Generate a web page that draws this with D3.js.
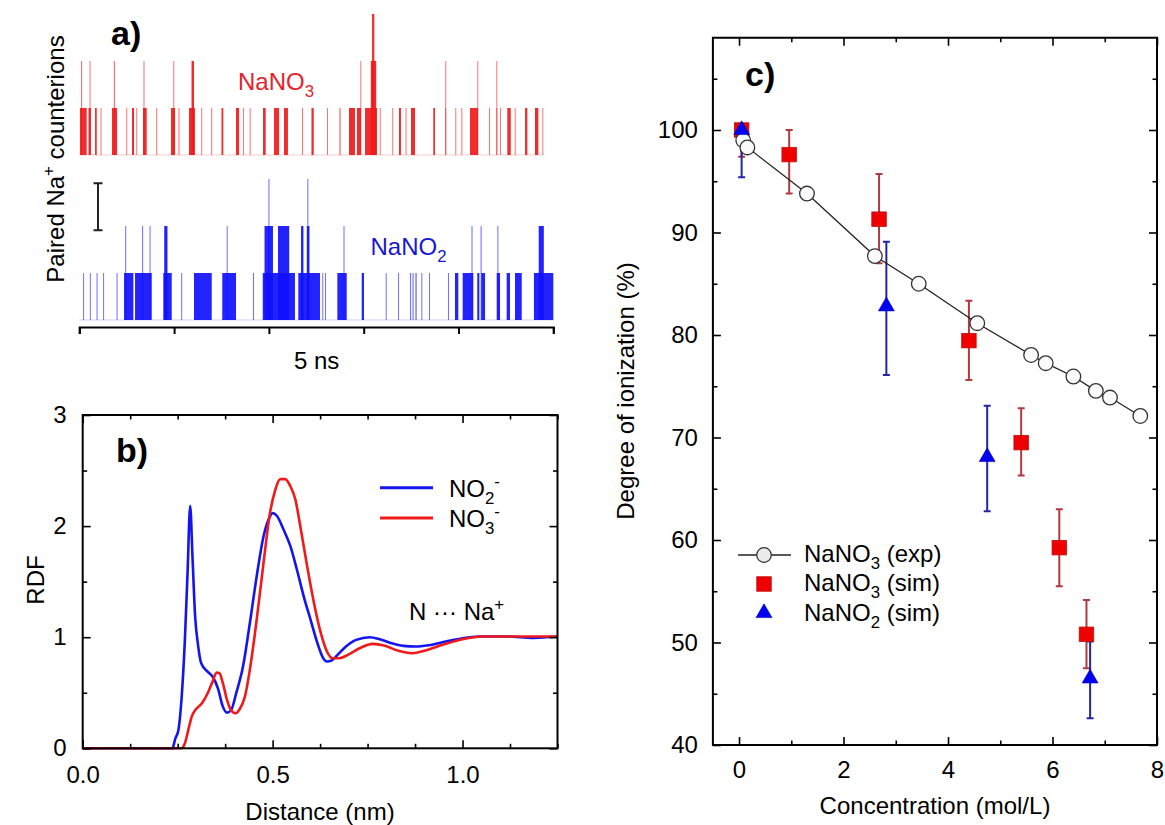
<!DOCTYPE html>
<html><head><meta charset="utf-8">
<script src="https://cdn.jsdelivr.net/npm/d3@7"></script>
<style>
body{margin:0;background:#fff}
text{font-family:"Liberation Sans",Arial,Helvetica,sans-serif}
</style>
</head><body>
<svg id="chart" width="1165" height="825"></svg>
<script>
// ---------------- DATA ----------------
// Panel a: paired Na+ counterion events, [start ns, end ns, count]
const timeTicks = [0, 1, 2, 3, 4, 5];
const nano3Events = [
 [0.007,0.078,1],[0.097,0.123,1],[0.166,0.184,1],[0.224,0.234,1],[0.345,0.398,1],[0.495,0.505,1],
 [0.556,0.577,1],[0.601,0.609,1],[0.672,0.711,1],[0.811,0.822,1],[0.967,1.010,1],[1.046,1.057,1],
 [1.157,1.220,1],[1.286,1.296,1],[1.391,1.402,1],[1.500,1.519,1],[1.653,1.685,1],[1.727,1.737,1],
 [1.797,1.806,1],[1.938,1.966,1],[2.054,2.107,1],[2.159,2.201,1],[2.349,2.360,1],[2.449,2.473,1],
 [2.613,2.623,1],[2.743,2.757,1],[2.845,2.908,1],[2.929,2.972,1],[3.014,3.140,1],[3.169,3.177,1],
 [3.301,3.311,1],[3.372,3.393,1],[3.441,3.452,1],[3.499,3.541,1],[3.734,3.752,1],[3.860,3.870,1],
 [3.966,3.976,1],[4.030,4.039,1],[4.121,4.206,1],[4.322,4.332,1],[4.399,4.407,1],[4.438,4.448,1],
 [4.515,4.551,1],[4.593,4.601,1],[4.702,4.726,1],[4.807,4.842,1],[4.884,4.893,1],
 [0.018,0.030,2],[0.108,0.118,2],[0.364,0.377,2],[0.677,0.688,2],[0.991,1.001,2],[1.184,1.210,2],
 [2.964,2.972,2],[3.075,3.132,2],[3.860,3.870,2],[4.198,4.206,2],[4.399,4.407,2],
 [3.088,3.112,3]
];
const nano2Events = [
 [0.040,0.046,1],[0.111,0.116,1],[0.182,0.187,1],[0.251,0.256,1],[0.393,0.398,1],[0.472,0.570,1],
 [0.588,0.764,1],[0.886,0.975,1],[1.075,1.085,1],[1.210,1.397,1],[1.508,1.653,1],[1.832,1.843,1],
 [1.935,2.275,1],[2.310,2.539,1],[2.563,2.571,1],[2.592,2.600,1],[2.722,2.821,1],[2.979,3.003,1],
 [3.232,3.241,1],[3.362,3.370,1],[3.488,3.500,1],[3.515,3.527,1],[3.545,3.559,1],[3.608,3.616,1],
 [3.689,3.697,1],[3.889,3.897,1],[3.963,3.998,1],[4.044,4.156,1],[4.198,4.220,1],[4.240,4.280,1],
 [4.403,4.438,1],[4.508,4.543,1],[4.596,4.667,1],[4.796,5.000,1],
 [0.484,0.495,2],[0.662,0.673,2],[0.741,0.751,2],[0.896,0.930,2],[1.555,1.565,2],[1.954,2.043,2],
 [2.096,2.214,2],[2.339,2.364,2],[2.400,2.428,2],[2.787,2.797,2],[4.137,4.148,2],[4.233,4.244,2],
 [4.410,4.420,2],[4.846,4.900,2],
 [1.995,2.006,3],[2.405,2.416,3]
];

// Panel b: RDF N...Na+
const no2Dist = [0,0.236,0.244,0.252,0.26,0.269,0.276,0.283,0.289,0.296,0.303,0.312,0.329,0.342,0.356,0.369,0.38,0.391,0.404,0.422,0.44,0.458,0.476,0.489,0.5,0.511,0.529,0.547,0.564,0.582,0.6,0.618,0.631,0.643,0.655,0.671,0.693,0.72,0.756,0.782,0.813,0.844,0.876,0.911,0.956,1.0,1.044,1.116,1.187,1.249];
const no2Rdf  = [0,0,0.09,0.165,0.435,0.976,1.577,2.18,1.727,1.186,0.946,0.766,0.69,0.646,0.54,0.375,0.321,0.345,0.495,0.736,1.126,1.547,1.907,2.057,2.117,2.093,1.967,1.817,1.607,1.366,1.156,0.946,0.826,0.781,0.79,0.841,0.916,0.976,1.0,0.982,0.946,0.922,0.916,0.928,0.961,0.991,1.006,1.006,0.994,1.006];
const no3Dist = [0,0.26,0.269,0.278,0.287,0.298,0.314,0.329,0.342,0.353,0.36,0.369,0.38,0.391,0.403,0.413,0.427,0.44,0.458,0.476,0.493,0.507,0.52,0.533,0.547,0.56,0.573,0.591,0.609,0.627,0.643,0.658,0.676,0.698,0.729,0.764,0.796,0.831,0.867,0.902,0.947,1.0,1.053,1.133,1.249];
const no3Rdf  = [0,0,0.045,0.165,0.285,0.351,0.405,0.495,0.6,0.682,0.676,0.586,0.435,0.339,0.315,0.351,0.465,0.706,1.156,1.667,2.117,2.327,2.423,2.423,2.357,2.237,1.997,1.637,1.306,1.036,0.871,0.811,0.811,0.841,0.901,0.94,0.922,0.877,0.856,0.88,0.931,0.982,1.006,1.006,1.006];
const rdfXTicks = [0, 0.5, 1.0];
const rdfYTicks = [0, 1, 2, 3];

// Panel c: degree of ionization
const expConc = [0.08,0.16,1.30,2.60,3.44,4.56,5.59,5.87,6.40,6.83,7.10,7.68];
const expIon  = [99.0,98.3,93.8,87.7,85.0,81.15,78.05,77.25,75.95,74.55,73.9,72.1];
const simNO3Conc = [0.05,0.96,2.68,4.40,5.40,6.13,6.65];
const simNO3Ion  = [100,97.6,91.3,79.45,69.5,59.25,50.8];
const simNO3Lo   = [97.4,93.8,87.0,75.6,66.3,55.5,47.5];
const simNO3Hi   = [100,100,95.7,83.35,72.85,63.0,54.15];
const simNO2Conc = [0.05,2.82,4.75,6.72];
const simNO2Ion  = [100,82.8,68.1,46.5];
const simNO2Lo   = [95.4,76.1,62.8,42.6];
const simNO2Hi   = [100,89.1,73.1,50.1];
const concTicks = [0,2,4,6,8];
const ionTicks = [40,50,60,70,80,90,100];

// ---------------- HELPERS ----------------
const svg = d3.select("#chart");
const FS = 24;
const RED = "#f01a1a", BLUE = "#1414f0";

function rich(parent, x, y, parts, opts = {}) {
  const fs = opts.fs || FS;
  const t = parent.append("text").attr("x", x).attr("y", y)
    .attr("font-size", fs).attr("fill", opts.fill || "#000");
  if (opts.anchor) t.attr("text-anchor", opts.anchor);
  if (opts.transform) t.attr("transform", opts.transform);
  if (opts.weight) t.attr("font-weight", opts.weight);
  let shift = 0;
  parts.forEach(p => {
    let target = 0, size = fs;
    if (p.sub) { target = 0.3 * fs; size = 0.7 * fs; }
    if (p.sup) { target = -0.42 * fs; size = 0.7 * fs; }
    t.append("tspan").attr("dy", target - shift).attr("font-size", size).text(p.t);
    shift = target;
  });
  return t;
}

function ticksAxis(g, axisFn, scale, values, size, transform) {
  const a = axisFn(scale).tickValues(values).tickSizeInner(size).tickSizeOuter(0).tickFormat("");
  const s = g.append("g").attr("transform", transform).call(a);
  s.select(".domain").remove();
  s.selectAll("line").attr("stroke", "#000").attr("stroke-width", 1.6);
  return s;
}

// ---------------- PANEL A ----------------
const gA = svg.append("g");
const xA = d3.scaleLinear().domain([0, 5]).range([79.3, 553.3]);
const yRed = d3.scaleLinear().domain([0, 3]).range([155, 14]);
const yBlue = d3.scaleLinear().domain([0, 3]).range([320, 179]);

gA.append("line").attr("x1", xA(0)).attr("x2", xA(4.9)).attr("y1", yRed(0)).attr("y2", yRed(0))
  .attr("stroke", "#f3d0d0").attr("stroke-width", 1.2);
gA.append("line").attr("x1", xA(0)).attr("x2", xA(5)).attr("y1", yBlue(0)).attr("y2", yBlue(0))
  .attr("stroke", "#d0d0f5").attr("stroke-width", 1.2);

function drawEvents(data, y, color) {
  const sorted = data.slice().sort((a, b) => a[2] - b[2]);
  gA.append("g").selectAll("rect").data(sorted).join("rect")
    .attr("x", d => xA(d[0]))
    .attr("width", d => Math.max(1, xA(d[1]) - xA(d[0])))
    .attr("y", d => y(d[2]))
    .attr("height", d => y(0) - y(d[2]))
    .attr("fill", color)
    .attr("opacity", d => (xA(d[1]) - xA(d[0]) < 1.5 ? 0.6 : 0.92));
}
drawEvents(nano3Events, yRed, RED);
drawEvents(nano2Events, yBlue, "#1010ff");

const axA = d3.axisBottom(xA).tickValues(timeTicks).tickSizeInner(7).tickSizeOuter(7).tickFormat("");
const axAg = gA.append("g").attr("transform", "translate(0,327)").call(axA);
axAg.select(".domain").attr("stroke-width", 2);
axAg.selectAll("line").attr("stroke-width", 2);

gA.append("text").attr("x", 316.7).attr("y", 368.5).attr("text-anchor", "middle")
  .attr("font-size", FS).text("5 ns");

// scale bar = 1 counterion
const sbLen = yBlue(0) - yBlue(1);
const sbX = 98, sbMid = 206.7;
gA.append("path").attr("d",
  `M${sbX},${sbMid - sbLen/2}V${sbMid + sbLen/2}M${sbX-4.5},${sbMid - sbLen/2}H${sbX+4.5}M${sbX-4.5},${sbMid + sbLen/2}H${sbX+4.5}`)
  .attr("stroke", "#222").attr("stroke-width", 2).attr("fill", "none");

rich(gA, 238, 90, [{t:"NaNO"},{t:"3",sub:true}], {fill:"#e5222a"});
rich(gA, 370.5, 255, [{t:"NaNO"},{t:"2",sub:true}], {fill:"#1818d0"});
rich(gA, 64, 159, [{t:"Paired Na"},{t:"+",sup:true},{t:" counterions"}],
  {anchor:"middle", transform:"rotate(-90,64,159)"});
gA.append("text").attr("x", 111).attr("y", 45).attr("font-size", 34).attr("font-weight", "bold").text("a)");

// ---------------- PANEL B ----------------
const gB = svg.append("g");
const xB = d3.scaleLinear().domain([0, 1.25]).range([82.7, 557.5]);
const yB = d3.scaleLinear().domain([0, 3]).range([748.3, 415]);

const lineB = (xs, ys) => d3.line().x((d, i) => xB(xs[i])).y((d, i) => yB(ys[i])).curve(d3.curveMonotoneX)(ys);
gB.append("path").attr("d", lineB(no2Dist, no2Rdf)).attr("fill", "none").attr("stroke", BLUE).attr("stroke-width", 2.6);
gB.append("path").attr("d", lineB(no3Dist, no3Rdf)).attr("fill", "none").attr("stroke", RED).attr("stroke-width", 2.6);

const minorX = d3.range(0, 1.2501, 0.125).filter(v => !rdfXTicks.some(t => Math.abs(t - v) < 1e-6));
const minorY = [0.5, 1.5, 2.5];
ticksAxis(gB, d3.axisBottom, xB, rdfXTicks, -8, `translate(0,${yB(0)})`);
ticksAxis(gB, d3.axisBottom, xB, minorX, -4.5, `translate(0,${yB(0)})`);
ticksAxis(gB, d3.axisTop, xB, rdfXTicks, -8, `translate(0,${yB(3)})`);
ticksAxis(gB, d3.axisTop, xB, minorX, -4.5, `translate(0,${yB(3)})`);
ticksAxis(gB, d3.axisLeft, yB, rdfYTicks, -8, `translate(${xB(0)},0)`);
ticksAxis(gB, d3.axisLeft, yB, minorY, -4.5, `translate(${xB(0)},0)`);
ticksAxis(gB, d3.axisRight, yB, rdfYTicks, -8, `translate(${xB(1.25)},0)`);
ticksAxis(gB, d3.axisRight, yB, minorY, -4.5, `translate(${xB(1.25)},0)`);

const bxl = gB.append("g").attr("transform", `translate(0,${yB(0)})`)
  .call(d3.axisBottom(xB).tickValues(rdfXTicks).tickSize(0).tickPadding(18).tickFormat(d3.format(".1f")));
bxl.select(".domain").remove();
bxl.selectAll("text").attr("font-size", FS).attr("font-family", null).attr("fill", "#000");
const byl = gB.append("g").attr("transform", `translate(${xB(0)},0)`)
  .call(d3.axisLeft(yB).tickValues(rdfYTicks).tickSize(0).tickPadding(16).tickFormat(d3.format("d")));
byl.select(".domain").remove();
byl.selectAll("text").attr("font-size", FS).attr("font-family", null).attr("fill", "#000");

gB.append("rect").attr("x", xB(0)).attr("y", yB(3)).attr("width", xB(1.25) - xB(0)).attr("height", yB(0) - yB(3))
  .attr("fill", "none").attr("stroke", "#000").attr("stroke-width", 2);

gB.append("text").attr("x", 320).attr("y", 820).attr("text-anchor", "middle").attr("font-size", FS).text("Distance (nm)");
gB.append("text").attr("x", 0).attr("y", 0).attr("text-anchor", "middle").attr("font-size", FS)
  .attr("transform", "translate(44,580) rotate(-90)").text("RDF");
gB.append("text").attr("x", 116).attr("y", 462).attr("font-size", 34).attr("font-weight", "bold").text("b)");

// legend
gB.append("line").attr("x1", 380).attr("x2", 433).attr("y1", 487.7).attr("y2", 487.7).attr("stroke", BLUE).attr("stroke-width", 3);
gB.append("line").attr("x1", 380).attr("x2", 433).attr("y1", 518).attr("y2", 518).attr("stroke", RED).attr("stroke-width", 3);
rich(gB, 449, 497, [{t:"NO"},{t:"2",sub:true},{t:"-",sup:true}]);
rich(gB, 449, 527, [{t:"NO"},{t:"3",sub:true},{t:"-",sup:true}]);
rich(gB, 409, 620, [{t:"N \u00B7\u00B7\u00B7 Na"},{t:"+",sup:true}]);

// ---------------- PANEL C ----------------
const gC = svg.append("g");
const xC = d3.scaleLinear().domain([-0.5, 8]).range([712.9, 1157]);
const yC = d3.scaleLinear().domain([40, 109]).range([745, 37.75]);

const minorCX = [1, 3, 5, 7];
const minorCY = [45, 55, 65, 75, 85, 95, 105];
ticksAxis(gC, d3.axisBottom, xC, concTicks, -8, `translate(0,${yC(40)})`);
ticksAxis(gC, d3.axisBottom, xC, minorCX, -4.5, `translate(0,${yC(40)})`);
ticksAxis(gC, d3.axisTop, xC, concTicks, -8, `translate(0,${yC(109)})`);
ticksAxis(gC, d3.axisTop, xC, minorCX, -4.5, `translate(0,${yC(109)})`);
ticksAxis(gC, d3.axisLeft, yC, ionTicks, -8, `translate(${xC(-0.5)},0)`);
ticksAxis(gC, d3.axisLeft, yC, minorCY, -4.5, `translate(${xC(-0.5)},0)`);
ticksAxis(gC, d3.axisRight, yC, ionTicks, -8, `translate(${xC(8)},0)`);
ticksAxis(gC, d3.axisRight, yC, minorCY, -4.5, `translate(${xC(8)},0)`);

const cxl = gC.append("g").attr("transform", `translate(0,${yC(40)})`)
  .call(d3.axisBottom(xC).tickValues(concTicks).tickSize(0).tickPadding(16).tickFormat(d3.format("d")));
cxl.select(".domain").remove();
cxl.selectAll("text").attr("font-size", FS).attr("font-family", null).attr("fill", "#000");
const cyl = gC.append("g").attr("transform", `translate(${xC(-0.5)},0)`)
  .call(d3.axisLeft(yC).tickValues(ionTicks).tickSize(0).tickPadding(15).tickFormat(d3.format("d")));
cyl.select(".domain").remove();
cyl.selectAll("text").attr("font-size", FS).attr("font-family", null).attr("fill", "#000");

// error bars
function errBars(xs, lo, hi, color) {
  const g = gC.append("g").attr("stroke", color).attr("stroke-width", 2).attr("fill", "none");
  xs.forEach((c, i) => {
    const x = xC(c);
    g.append("path").attr("d",
      `M${x},${yC(lo[i])}V${yC(hi[i])}M${x-3.5},${yC(lo[i])}H${x+3.5}M${x-3.5},${yC(hi[i])}H${x+3.5}`);
  });
}
errBars(simNO3Conc, simNO3Lo, simNO3Hi, "#b03a40");
errBars(simNO2Conc, simNO2Lo, simNO2Hi, "#2525a8");

const SQ = 14.5;
gC.append("g").selectAll("rect").data(simNO3Conc).join("rect")
  .attr("x", (d) => xC(d) - SQ/2).attr("y", (d, i) => yC(simNO3Ion[i]) - SQ/2)
  .attr("width", SQ).attr("height", SQ).attr("fill", "#ee0000").attr("stroke", "#c01010").attr("stroke-width", 0.8);

const expLine = d3.line().x((d, i) => xC(expConc[i])).y(d => yC(d));
gC.append("path").attr("d", expLine(expIon)).attr("fill", "none").attr("stroke", "#222").attr("stroke-width", 1.3);
gC.append("g").selectAll("circle").data(expIon).join("circle")
  .attr("cx", (d, i) => xC(expConc[i])).attr("cy", d => yC(d)).attr("r", 7.3)
  .attr("fill", "#fbfbfb").attr("stroke", "#333").attr("stroke-width", 1.3);

const tri = d3.symbol().type(d3.symbolTriangle).size(110);
gC.append("g").selectAll("path").data(simNO2Ion).join("path")
  .attr("d", tri).attr("transform", (d, i) => `translate(${xC(simNO2Conc[i])},${yC(d)})`)
  .attr("fill", "#0000ee").attr("stroke", "#0000c0").attr("stroke-width", 0.6);

gC.append("rect").attr("x", xC(-0.5)).attr("y", yC(109)).attr("width", xC(8) - xC(-0.5)).attr("height", yC(40) - yC(109))
  .attr("fill", "none").attr("stroke", "#000").attr("stroke-width", 2);

gC.append("text").attr("x", 935).attr("y", 814).attr("text-anchor", "middle").attr("font-size", FS).text("Concentration (mol/L)");
gC.append("text").attr("x", 0).attr("y", 0).attr("text-anchor", "middle").attr("font-size", FS)
  .attr("transform", "translate(634,391) rotate(-90)").text("Degree of ionization (%)");
gC.append("text").attr("x", 745).attr("y", 86).attr("font-size", 34).attr("font-weight", "bold").text("c)");

// legend
gC.append("line").attr("x1", 738).attr("x2", 791).attr("y1", 555).attr("y2", 555).attr("stroke", "#222").attr("stroke-width", 1.3);
gC.append("circle").attr("cx", 764).attr("cy", 555).attr("r", 7.3).attr("fill", "#ececec").attr("stroke", "#333").attr("stroke-width", 1.3);
gC.append("rect").attr("x", 764 - SQ/2).attr("y", 584 - SQ/2).attr("width", SQ).attr("height", SQ).attr("fill", "#ee0000").attr("stroke", "#c01010").attr("stroke-width", 0.8);
gC.append("path").attr("d", tri).attr("transform", "translate(764,613)").attr("fill", "#0000ee").attr("stroke", "#0000c0").attr("stroke-width", 0.6);
rich(gC, 804, 562, [{t:"NaNO"},{t:"3",sub:true},{t:" (exp)"}]);
rich(gC, 804, 591, [{t:"NaNO"},{t:"3",sub:true},{t:" (sim)"}]);
rich(gC, 804, 620.5, [{t:"NaNO"},{t:"2",sub:true},{t:" (sim)"}]);
</script>
</body></html>
